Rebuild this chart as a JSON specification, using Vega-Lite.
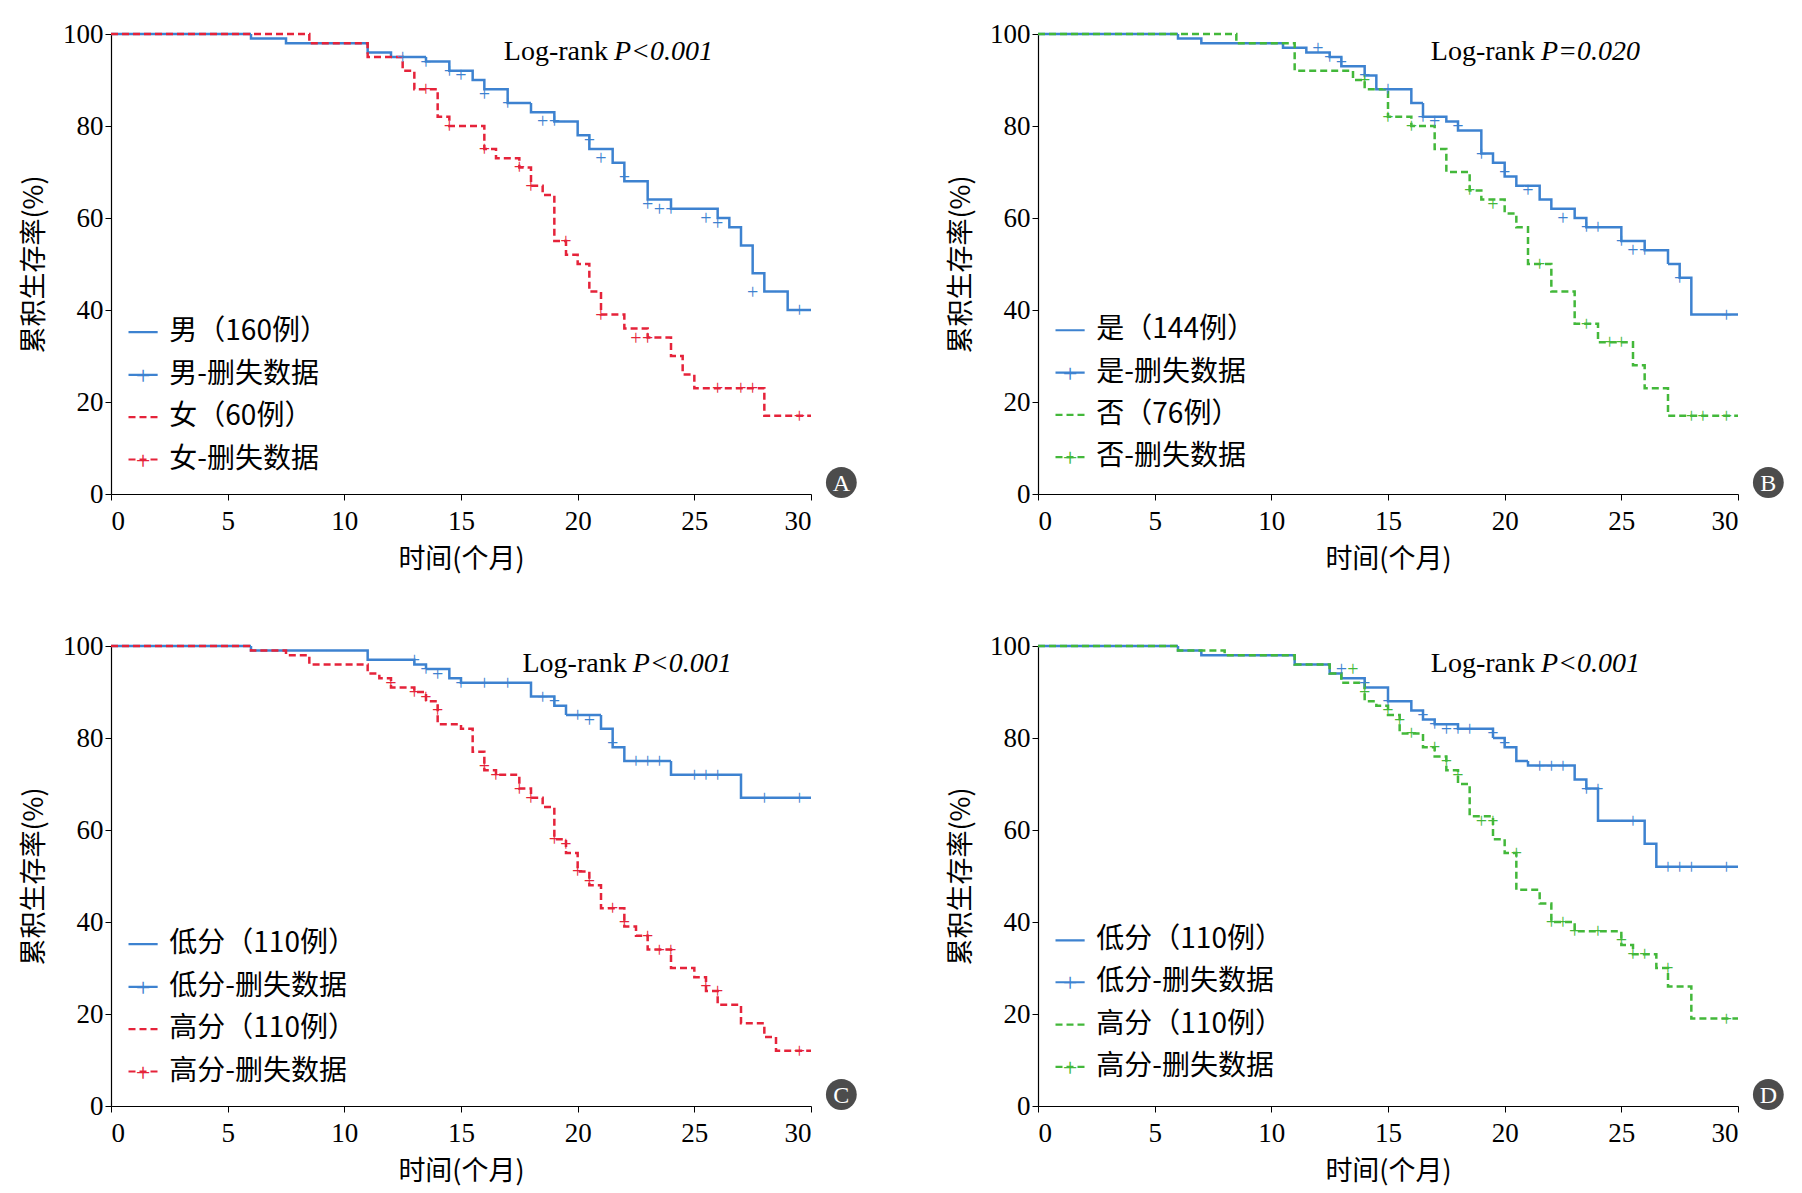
{
"$schema":"https://vega.github.io/schema/vega-lite/v6.json",
"background":"white",
"padding":{"left":20,"top":20,"right":10,"bottom":5},
"config":{"view":{"stroke":null},"font":"Liberation Serif","axis":{"grid":false,"domainColor":"#000","tickColor":"#000","labelColor":"#000","titleColor":"#000","labelFont":"Liberation Serif","titleFont":"Noto Sans CJK SC","labelFontSize":27,"titleFontSize":27,"titleFontWeight":"normal","tickSize":6,"domainWidth":1.2},"concat":{"spacing":90}},
"resolve":{"scale":{"color":"independent"}},
"datasets":{
"curves":[
{"p":"A","g":"a","t":0,"s":100},{"p":"A","g":"a","t":6,"s":99},{"p":"A","g":"a","t":7.5,"s":98},{"p":"A","g":"a","t":11,"s":96},{"p":"A","g":"a","t":12,"s":95},{"p":"A","g":"a","t":13.5,"s":94},{"p":"A","g":"a","t":14.5,"s":92},{"p":"A","g":"a","t":15.5,"s":90},{"p":"A","g":"a","t":16,"s":88},{"p":"A","g":"a","t":17,"s":85},{"p":"A","g":"a","t":18,"s":83},{"p":"A","g":"a","t":19,"s":81},{"p":"A","g":"a","t":20,"s":78},{"p":"A","g":"a","t":20.5,"s":75},{"p":"A","g":"a","t":21.5,"s":72},{"p":"A","g":"a","t":22,"s":68},{"p":"A","g":"a","t":23,"s":64},{"p":"A","g":"a","t":24,"s":62},{"p":"A","g":"a","t":26,"s":60},{"p":"A","g":"a","t":26.5,"s":58},{"p":"A","g":"a","t":27,"s":54},{"p":"A","g":"a","t":27.5,"s":48},{"p":"A","g":"a","t":28,"s":44},{"p":"A","g":"a","t":29,"s":40},{"p":"A","g":"a","t":30,"s":40},
{"p":"A","g":"b","t":0,"s":100},{"p":"A","g":"b","t":8.5,"s":98},{"p":"A","g":"b","t":11,"s":95},{"p":"A","g":"b","t":12.5,"s":92},{"p":"A","g":"b","t":13,"s":88},{"p":"A","g":"b","t":14,"s":82},{"p":"A","g":"b","t":14.5,"s":80},{"p":"A","g":"b","t":16,"s":75},{"p":"A","g":"b","t":16.5,"s":73},{"p":"A","g":"b","t":17.5,"s":71},{"p":"A","g":"b","t":18,"s":67},{"p":"A","g":"b","t":18.5,"s":65},{"p":"A","g":"b","t":19,"s":55},{"p":"A","g":"b","t":19.5,"s":52},{"p":"A","g":"b","t":20,"s":50},{"p":"A","g":"b","t":20.5,"s":44},{"p":"A","g":"b","t":21,"s":39},{"p":"A","g":"b","t":22,"s":36},{"p":"A","g":"b","t":23,"s":34},{"p":"A","g":"b","t":24,"s":30},{"p":"A","g":"b","t":24.5,"s":26},{"p":"A","g":"b","t":25,"s":23},{"p":"A","g":"b","t":28,"s":17},{"p":"A","g":"b","t":30,"s":17},
{"p":"B","g":"a","t":0,"s":100},{"p":"B","g":"a","t":6,"s":99},{"p":"B","g":"a","t":7,"s":98},{"p":"B","g":"a","t":10.5,"s":97},{"p":"B","g":"a","t":11.5,"s":96},{"p":"B","g":"a","t":12.5,"s":95},{"p":"B","g":"a","t":13,"s":93},{"p":"B","g":"a","t":14,"s":91},{"p":"B","g":"a","t":14.5,"s":88},{"p":"B","g":"a","t":16,"s":85},{"p":"B","g":"a","t":16.5,"s":82},{"p":"B","g":"a","t":17.5,"s":81},{"p":"B","g":"a","t":18,"s":79},{"p":"B","g":"a","t":19,"s":74},{"p":"B","g":"a","t":19.5,"s":72},{"p":"B","g":"a","t":20,"s":69},{"p":"B","g":"a","t":20.5,"s":67},{"p":"B","g":"a","t":21.5,"s":64},{"p":"B","g":"a","t":22,"s":62},{"p":"B","g":"a","t":23,"s":60},{"p":"B","g":"a","t":23.5,"s":58},{"p":"B","g":"a","t":25,"s":55},{"p":"B","g":"a","t":26,"s":53},{"p":"B","g":"a","t":27,"s":50},{"p":"B","g":"a","t":27.5,"s":47},{"p":"B","g":"a","t":28,"s":39},{"p":"B","g":"a","t":30,"s":39},
{"p":"B","g":"b","t":0,"s":100},{"p":"B","g":"b","t":8.5,"s":98},{"p":"B","g":"b","t":11,"s":92},{"p":"B","g":"b","t":13.5,"s":90},{"p":"B","g":"b","t":14,"s":88},{"p":"B","g":"b","t":15,"s":82},{"p":"B","g":"b","t":16,"s":80},{"p":"B","g":"b","t":17,"s":75},{"p":"B","g":"b","t":17.5,"s":70},{"p":"B","g":"b","t":18.5,"s":66},{"p":"B","g":"b","t":19,"s":64},{"p":"B","g":"b","t":20,"s":61},{"p":"B","g":"b","t":20.5,"s":58},{"p":"B","g":"b","t":21,"s":50},{"p":"B","g":"b","t":22,"s":44},{"p":"B","g":"b","t":23,"s":37},{"p":"B","g":"b","t":24,"s":33},{"p":"B","g":"b","t":25.5,"s":28},{"p":"B","g":"b","t":26,"s":23},{"p":"B","g":"b","t":27,"s":17},{"p":"B","g":"b","t":30,"s":17},
{"p":"C","g":"a","t":0,"s":100},{"p":"C","g":"a","t":6,"s":99},{"p":"C","g":"a","t":11,"s":97},{"p":"C","g":"a","t":13,"s":96},{"p":"C","g":"a","t":13.5,"s":95},{"p":"C","g":"a","t":14.5,"s":93},{"p":"C","g":"a","t":15,"s":92},{"p":"C","g":"a","t":18,"s":89},{"p":"C","g":"a","t":19,"s":87},{"p":"C","g":"a","t":19.5,"s":85},{"p":"C","g":"a","t":21,"s":82},{"p":"C","g":"a","t":21.5,"s":78},{"p":"C","g":"a","t":22,"s":75},{"p":"C","g":"a","t":24,"s":72},{"p":"C","g":"a","t":27,"s":67},{"p":"C","g":"a","t":30,"s":67},
{"p":"C","g":"b","t":0,"s":100},{"p":"C","g":"b","t":6,"s":99},{"p":"C","g":"b","t":7.5,"s":98},{"p":"C","g":"b","t":8.5,"s":96},{"p":"C","g":"b","t":11,"s":94},{"p":"C","g":"b","t":11.5,"s":93},{"p":"C","g":"b","t":12,"s":91},{"p":"C","g":"b","t":13,"s":90},{"p":"C","g":"b","t":13.5,"s":88},{"p":"C","g":"b","t":14,"s":83},{"p":"C","g":"b","t":15,"s":82},{"p":"C","g":"b","t":15.5,"s":77},{"p":"C","g":"b","t":16,"s":73},{"p":"C","g":"b","t":16.5,"s":72},{"p":"C","g":"b","t":17.5,"s":69},{"p":"C","g":"b","t":18,"s":67},{"p":"C","g":"b","t":18.5,"s":65},{"p":"C","g":"b","t":19,"s":58},{"p":"C","g":"b","t":19.5,"s":55},{"p":"C","g":"b","t":20,"s":51},{"p":"C","g":"b","t":20.5,"s":48},{"p":"C","g":"b","t":21,"s":43},{"p":"C","g":"b","t":22,"s":39},{"p":"C","g":"b","t":22.5,"s":37},{"p":"C","g":"b","t":23,"s":34},{"p":"C","g":"b","t":24,"s":30},{"p":"C","g":"b","t":25,"s":28},{"p":"C","g":"b","t":25.5,"s":25},{"p":"C","g":"b","t":26,"s":22},{"p":"C","g":"b","t":27,"s":18},{"p":"C","g":"b","t":28,"s":15},{"p":"C","g":"b","t":28.5,"s":12},{"p":"C","g":"b","t":30,"s":12},
{"p":"D","g":"a","t":0,"s":100},{"p":"D","g":"a","t":6,"s":99},{"p":"D","g":"a","t":7,"s":98},{"p":"D","g":"a","t":11,"s":96},{"p":"D","g":"a","t":12.5,"s":94},{"p":"D","g":"a","t":13,"s":93},{"p":"D","g":"a","t":14,"s":91},{"p":"D","g":"a","t":15,"s":88},{"p":"D","g":"a","t":16,"s":86},{"p":"D","g":"a","t":16.5,"s":84},{"p":"D","g":"a","t":17,"s":83},{"p":"D","g":"a","t":18,"s":82},{"p":"D","g":"a","t":19.5,"s":80},{"p":"D","g":"a","t":20,"s":78},{"p":"D","g":"a","t":20.5,"s":75},{"p":"D","g":"a","t":21,"s":74},{"p":"D","g":"a","t":23,"s":71},{"p":"D","g":"a","t":23.5,"s":69},{"p":"D","g":"a","t":24,"s":62},{"p":"D","g":"a","t":26,"s":57},{"p":"D","g":"a","t":26.5,"s":52},{"p":"D","g":"a","t":30,"s":52},
{"p":"D","g":"b","t":0,"s":100},{"p":"D","g":"b","t":6,"s":99},{"p":"D","g":"b","t":8,"s":98},{"p":"D","g":"b","t":11,"s":96},{"p":"D","g":"b","t":12.5,"s":94},{"p":"D","g":"b","t":13,"s":92},{"p":"D","g":"b","t":14,"s":88},{"p":"D","g":"b","t":14.5,"s":87},{"p":"D","g":"b","t":15,"s":85},{"p":"D","g":"b","t":15.5,"s":81},{"p":"D","g":"b","t":16.5,"s":78},{"p":"D","g":"b","t":17,"s":76},{"p":"D","g":"b","t":17.5,"s":73},{"p":"D","g":"b","t":18,"s":70},{"p":"D","g":"b","t":18.5,"s":63},{"p":"D","g":"b","t":19.5,"s":58},{"p":"D","g":"b","t":20,"s":55},{"p":"D","g":"b","t":20.5,"s":47},{"p":"D","g":"b","t":21.5,"s":44},{"p":"D","g":"b","t":22,"s":40},{"p":"D","g":"b","t":23,"s":38},{"p":"D","g":"b","t":25,"s":35},{"p":"D","g":"b","t":25.5,"s":33},{"p":"D","g":"b","t":26.5,"s":30},{"p":"D","g":"b","t":27,"s":26},{"p":"D","g":"b","t":28,"s":19},{"p":"D","g":"b","t":30,"s":19}
],
"cens":[
{"p":"A","g":"a","t":12.5,"s":95},{"p":"A","g":"a","t":13.5,"s":94},{"p":"A","g":"a","t":14.5,"s":92},{"p":"A","g":"a","t":15,"s":91},{"p":"A","g":"a","t":16,"s":87},{"p":"A","g":"a","t":17,"s":85},{"p":"A","g":"a","t":18.5,"s":81},{"p":"A","g":"a","t":19,"s":81},{"p":"A","g":"a","t":20.5,"s":77},{"p":"A","g":"a","t":21,"s":73},{"p":"A","g":"a","t":22,"s":69},{"p":"A","g":"a","t":23,"s":63},{"p":"A","g":"a","t":23.5,"s":62},{"p":"A","g":"a","t":24,"s":62},{"p":"A","g":"a","t":25.5,"s":60},{"p":"A","g":"a","t":26,"s":59},{"p":"A","g":"a","t":27.5,"s":44},{"p":"A","g":"a","t":29.5,"s":40},
{"p":"A","g":"b","t":13.5,"s":88},{"p":"A","g":"b","t":14.5,"s":80},{"p":"A","g":"b","t":16,"s":75},{"p":"A","g":"b","t":17.5,"s":71},{"p":"A","g":"b","t":18,"s":67},{"p":"A","g":"b","t":19.5,"s":55},{"p":"A","g":"b","t":21,"s":39},{"p":"A","g":"b","t":22.5,"s":34},{"p":"A","g":"b","t":23,"s":34},{"p":"A","g":"b","t":26,"s":23},{"p":"A","g":"b","t":27,"s":23},{"p":"A","g":"b","t":27.5,"s":23},{"p":"A","g":"b","t":29.5,"s":17},
{"p":"B","g":"a","t":12,"s":97},{"p":"B","g":"a","t":12.5,"s":95},{"p":"B","g":"a","t":13,"s":94},{"p":"B","g":"a","t":14,"s":91},{"p":"B","g":"a","t":15,"s":88},{"p":"B","g":"a","t":16.5,"s":82},{"p":"B","g":"a","t":17,"s":81},{"p":"B","g":"a","t":18,"s":80},{"p":"B","g":"a","t":19,"s":74},{"p":"B","g":"a","t":20,"s":70},{"p":"B","g":"a","t":21,"s":66},{"p":"B","g":"a","t":22.5,"s":60},{"p":"B","g":"a","t":23.5,"s":58},{"p":"B","g":"a","t":24,"s":58},{"p":"B","g":"a","t":25,"s":55},{"p":"B","g":"a","t":25.5,"s":53},{"p":"B","g":"a","t":26,"s":53},{"p":"B","g":"a","t":27.5,"s":47},{"p":"B","g":"a","t":29.5,"s":39},
{"p":"B","g":"b","t":14,"s":90},{"p":"B","g":"b","t":15,"s":82},{"p":"B","g":"b","t":16,"s":80},{"p":"B","g":"b","t":18.5,"s":66},{"p":"B","g":"b","t":19.5,"s":63},{"p":"B","g":"b","t":21.5,"s":50},{"p":"B","g":"b","t":23.5,"s":37},{"p":"B","g":"b","t":24.5,"s":33},{"p":"B","g":"b","t":25,"s":33},{"p":"B","g":"b","t":28,"s":17},{"p":"B","g":"b","t":28.5,"s":17},{"p":"B","g":"b","t":29.5,"s":17},
{"p":"C","g":"a","t":13,"s":97},{"p":"C","g":"a","t":13.5,"s":95},{"p":"C","g":"a","t":14,"s":94},{"p":"C","g":"a","t":15,"s":92},{"p":"C","g":"a","t":16,"s":92},{"p":"C","g":"a","t":17,"s":92},{"p":"C","g":"a","t":18.5,"s":89},{"p":"C","g":"a","t":19,"s":88},{"p":"C","g":"a","t":20,"s":85},{"p":"C","g":"a","t":20.5,"s":84},{"p":"C","g":"a","t":21.5,"s":79},{"p":"C","g":"a","t":22.5,"s":75},{"p":"C","g":"a","t":23,"s":75},{"p":"C","g":"a","t":23.5,"s":75},{"p":"C","g":"a","t":25,"s":72},{"p":"C","g":"a","t":25.5,"s":72},{"p":"C","g":"a","t":26,"s":72},{"p":"C","g":"a","t":28,"s":67},{"p":"C","g":"a","t":29.5,"s":67},
{"p":"C","g":"b","t":12,"s":92},{"p":"C","g":"b","t":13,"s":90},{"p":"C","g":"b","t":13.5,"s":89},{"p":"C","g":"b","t":14,"s":86},{"p":"C","g":"b","t":16,"s":74},{"p":"C","g":"b","t":16.5,"s":72},{"p":"C","g":"b","t":17.5,"s":69},{"p":"C","g":"b","t":18,"s":67},{"p":"C","g":"b","t":19,"s":58},{"p":"C","g":"b","t":19.5,"s":57},{"p":"C","g":"b","t":20,"s":51},{"p":"C","g":"b","t":20.5,"s":49},{"p":"C","g":"b","t":21.5,"s":43},{"p":"C","g":"b","t":22,"s":40},{"p":"C","g":"b","t":23,"s":37},{"p":"C","g":"b","t":23.5,"s":34},{"p":"C","g":"b","t":24,"s":34},{"p":"C","g":"b","t":25.5,"s":26},{"p":"C","g":"b","t":26,"s":25},{"p":"C","g":"b","t":29.5,"s":12},
{"p":"D","g":"a","t":13,"s":95},{"p":"D","g":"a","t":14,"s":92},{"p":"D","g":"a","t":15,"s":88},{"p":"D","g":"a","t":16.5,"s":85},{"p":"D","g":"a","t":17,"s":83},{"p":"D","g":"a","t":17.5,"s":82},{"p":"D","g":"a","t":18,"s":82},{"p":"D","g":"a","t":18.5,"s":82},{"p":"D","g":"a","t":19.5,"s":81},{"p":"D","g":"a","t":20,"s":79},{"p":"D","g":"a","t":21.5,"s":74},{"p":"D","g":"a","t":22,"s":74},{"p":"D","g":"a","t":22.5,"s":74},{"p":"D","g":"a","t":23.5,"s":69},{"p":"D","g":"a","t":24,"s":69},{"p":"D","g":"a","t":25.5,"s":62},{"p":"D","g":"a","t":27,"s":52},{"p":"D","g":"a","t":27.5,"s":52},{"p":"D","g":"a","t":28,"s":52},{"p":"D","g":"a","t":29.5,"s":52},
{"p":"D","g":"b","t":13.5,"s":95},{"p":"D","g":"b","t":14,"s":90},{"p":"D","g":"b","t":15,"s":86},{"p":"D","g":"b","t":15.5,"s":84},{"p":"D","g":"b","t":16,"s":81},{"p":"D","g":"b","t":17,"s":78},{"p":"D","g":"b","t":17.5,"s":75},{"p":"D","g":"b","t":18,"s":72},{"p":"D","g":"b","t":19,"s":62},{"p":"D","g":"b","t":19.5,"s":62},{"p":"D","g":"b","t":20.5,"s":55},{"p":"D","g":"b","t":22,"s":40},{"p":"D","g":"b","t":22.5,"s":40},{"p":"D","g":"b","t":23,"s":38},{"p":"D","g":"b","t":24,"s":38},{"p":"D","g":"b","t":25,"s":36},{"p":"D","g":"b","t":25.5,"s":33},{"p":"D","g":"b","t":26,"s":33},{"p":"D","g":"b","t":27,"s":30},{"p":"D","g":"b","t":29.5,"s":19}
],
"leg":[
{"p":"A","g":"a","k":"line","y":35.2,"label":"男（160例）"},{"p":"A","g":"a","k":"cens","y":25.9,"label":"男-删失数据"},{"p":"A","g":"b","k":"line","y":16.7,"label":"女（60例）"},{"p":"A","g":"b","k":"cens","y":7.5,"label":"女-删失数据"},
{"p":"B","g":"a","k":"line","y":35.6,"label":"是（144例）"},{"p":"B","g":"a","k":"cens","y":26.4,"label":"是-删失数据"},{"p":"B","g":"b","k":"line","y":17.2,"label":"否（76例）"},{"p":"B","g":"b","k":"cens","y":8,"label":"否-删失数据"},
{"p":"C","g":"a","k":"line","y":35.2,"label":"低分（110例）"},{"p":"C","g":"a","k":"cens","y":25.9,"label":"低分-删失数据"},{"p":"C","g":"b","k":"line","y":16.7,"label":"高分（110例）"},{"p":"C","g":"b","k":"cens","y":7.5,"label":"高分-删失数据"},
{"p":"D","g":"a","k":"line","y":36,"label":"低分（110例）"},{"p":"D","g":"a","k":"cens","y":26.9,"label":"低分-删失数据"},{"p":"D","g":"b","k":"line","y":17.7,"label":"高分（110例）"},{"p":"D","g":"b","k":"cens","y":8.5,"label":"高分-删失数据"}
],
"ann":[
{"p":"A","lr":"P<0.001","letter":"A"},{"p":"B","lr":"P=0.020","letter":"B"},{"p":"C","lr":"P<0.001","letter":"C"},{"p":"D","lr":"P<0.001","letter":"D"}
]
},
"vconcat":[
{"resolve":{"scale":{"color":"independent","strokeDash":"independent"}},"hconcat":[
{"width":700,"height":460,"layer":[
{"data":{"name":"curves"},"transform":[{"filter":"datum.p=='A'"}],"mark":{"type":"line","interpolate":"step-after","strokeWidth":2.5},"encoding":{"x":{"field":"t","type":"quantitative","scale":{"domain":[0,30],"nice":false},"axis":{"values":[0,5,10,15,20,25,30],"title":"时间(个月)","labelPadding":8,"titlePadding":12}},"y":{"field":"s","type":"quantitative","scale":{"domain":[0,100]},"axis":{"values":[0,20,40,60,80,100],"title":"累积生存率(%)","titlePadding":14}},"color":{"field":"g","scale":{"domain":["a","b"],"range":["#3d82d0","#e5233a"]},"legend":null},"strokeDash":{"field":"g","scale":{"domain":["a","b"],"range":[[1,0],[7,4]]},"legend":null}}},
{"data":{"name":"cens"},"transform":[{"filter":"datum.p=='A'"}],"mark":{"type":"text","text":"+","fontSize":20,"baseline":"middle","dy":1},"encoding":{"x":{"field":"t","type":"quantitative"},"y":{"field":"s","type":"quantitative"},"color":{"field":"g","scale":{"domain":["a","b"],"range":["#3d82d0","#e5233a"]},"legend":null}}},
{"data":{"name":"leg"},"transform":[{"filter":"datum.p=='A'"}],"mark":{"type":"rule","strokeWidth":2.2},"encoding":{"x":{"datum":0.75},"x2":{"datum":2.0},"y":{"field":"y","type":"quantitative"},"color":{"field":"g","scale":{"domain":["a","b"],"range":["#3d82d0","#e5233a"]},"legend":null},"strokeDash":{"field":"g","scale":{"domain":["a","b"],"range":[[1,0],[7,4]]},"legend":null}}},
{"data":{"name":"leg"},"transform":[{"filter":"datum.p=='A' && datum.k=='cens'"}],"mark":{"type":"text","text":"+","fontSize":26,"baseline":"middle","dy":1},"encoding":{"x":{"datum":1.37},"y":{"field":"y","type":"quantitative"},"color":{"field":"g","scale":{"domain":["a","b"],"range":["#3d82d0","#e5233a"]},"legend":null}}},
{"data":{"name":"leg"},"transform":[{"filter":"datum.p=='A'"}],"mark":{"type":"text","align":"left","baseline":"middle","fontSize":28,"font":"Noto Sans CJK SC","color":"#000"},"encoding":{"x":{"datum":2.5},"y":{"field":"y","type":"quantitative"},"text":{"field":"label"}}},
{"data":{"name":"ann"},"transform":[{"filter":"datum.p=='A'"}],"mark":{"type":"text","align":"right","baseline":"middle","fontSize":28,"color":"#000"},"encoding":{"x":{"datum":21.3},"y":{"datum":96},"text":{"value":"Log-rank"}}},
{"data":{"name":"ann"},"transform":[{"filter":"datum.p=='A'"}],"mark":{"type":"text","align":"left","baseline":"middle","fontSize":28,"fontStyle":"italic","color":"#000","dx":6},"encoding":{"x":{"datum":21.3},"y":{"datum":96},"text":{"field":"lr"}}},
{"data":{"name":"ann"},"transform":[{"filter":"datum.p=='A'"}],"mark":{"type":"point","filled":true,"size":950,"color":"#000","clip":false},"encoding":{"x":{"datum":31.3},"y":{"datum":2.5}}},
{"data":{"name":"ann"},"transform":[{"filter":"datum.p=='A'"}],"mark":{"type":"text","fontSize":24,"color":"#fff","baseline":"middle","clip":false,"dy":1},"encoding":{"x":{"datum":31.3},"y":{"datum":2.5},"text":{"field":"letter"}}}
]},
{"width":700,"height":460,"layer":[
{"data":{"name":"curves"},"transform":[{"filter":"datum.p=='B'"}],"mark":{"type":"line","interpolate":"step-after","strokeWidth":2.5},"encoding":{"x":{"field":"t","type":"quantitative","scale":{"domain":[0,30],"nice":false},"axis":{"values":[0,5,10,15,20,25,30],"title":"时间(个月)","labelPadding":8,"titlePadding":12}},"y":{"field":"s","type":"quantitative","scale":{"domain":[0,100]},"axis":{"values":[0,20,40,60,80,100],"title":"累积生存率(%)","titlePadding":14}},"color":{"field":"g","scale":{"domain":["a","b"],"range":["#3d82d0","#43b83a"]},"legend":null},"strokeDash":{"field":"g","scale":{"domain":["a","b"],"range":[[1,0],[7,4]]},"legend":null}}},
{"data":{"name":"cens"},"transform":[{"filter":"datum.p=='B'"}],"mark":{"type":"text","text":"+","fontSize":20,"baseline":"middle","dy":1},"encoding":{"x":{"field":"t","type":"quantitative"},"y":{"field":"s","type":"quantitative"},"color":{"field":"g","scale":{"domain":["a","b"],"range":["#3d82d0","#43b83a"]},"legend":null}}},
{"data":{"name":"leg"},"transform":[{"filter":"datum.p=='B'"}],"mark":{"type":"rule","strokeWidth":2.2},"encoding":{"x":{"datum":0.75},"x2":{"datum":2.0},"y":{"field":"y","type":"quantitative"},"color":{"field":"g","scale":{"domain":["a","b"],"range":["#3d82d0","#43b83a"]},"legend":null},"strokeDash":{"field":"g","scale":{"domain":["a","b"],"range":[[1,0],[7,4]]},"legend":null}}},
{"data":{"name":"leg"},"transform":[{"filter":"datum.p=='B' && datum.k=='cens'"}],"mark":{"type":"text","text":"+","fontSize":26,"baseline":"middle","dy":1},"encoding":{"x":{"datum":1.37},"y":{"field":"y","type":"quantitative"},"color":{"field":"g","scale":{"domain":["a","b"],"range":["#3d82d0","#43b83a"]},"legend":null}}},
{"data":{"name":"leg"},"transform":[{"filter":"datum.p=='B'"}],"mark":{"type":"text","align":"left","baseline":"middle","fontSize":28,"font":"Noto Sans CJK SC","color":"#000"},"encoding":{"x":{"datum":2.5},"y":{"field":"y","type":"quantitative"},"text":{"field":"label"}}},
{"data":{"name":"ann"},"transform":[{"filter":"datum.p=='B'"}],"mark":{"type":"text","align":"right","baseline":"middle","fontSize":28,"color":"#000"},"encoding":{"x":{"datum":21.3},"y":{"datum":96},"text":{"value":"Log-rank"}}},
{"data":{"name":"ann"},"transform":[{"filter":"datum.p=='B'"}],"mark":{"type":"text","align":"left","baseline":"middle","fontSize":28,"fontStyle":"italic","color":"#000","dx":6},"encoding":{"x":{"datum":21.3},"y":{"datum":96},"text":{"field":"lr"}}},
{"data":{"name":"ann"},"transform":[{"filter":"datum.p=='B'"}],"mark":{"type":"point","filled":true,"size":950,"color":"#000","clip":false},"encoding":{"x":{"datum":31.3},"y":{"datum":2.5}}},
{"data":{"name":"ann"},"transform":[{"filter":"datum.p=='B'"}],"mark":{"type":"text","fontSize":24,"color":"#fff","baseline":"middle","clip":false,"dy":1},"encoding":{"x":{"datum":31.3},"y":{"datum":2.5},"text":{"field":"letter"}}}
]}
]},
{"resolve":{"scale":{"color":"independent","strokeDash":"independent"}},"hconcat":[
{"width":700,"height":460,"layer":[
{"data":{"name":"curves"},"transform":[{"filter":"datum.p=='C'"}],"mark":{"type":"line","interpolate":"step-after","strokeWidth":2.5},"encoding":{"x":{"field":"t","type":"quantitative","scale":{"domain":[0,30],"nice":false},"axis":{"values":[0,5,10,15,20,25,30],"title":"时间(个月)","labelPadding":8,"titlePadding":12}},"y":{"field":"s","type":"quantitative","scale":{"domain":[0,100]},"axis":{"values":[0,20,40,60,80,100],"title":"累积生存率(%)","titlePadding":14}},"color":{"field":"g","scale":{"domain":["a","b"],"range":["#3d82d0","#e5233a"]},"legend":null},"strokeDash":{"field":"g","scale":{"domain":["a","b"],"range":[[1,0],[7,4]]},"legend":null}}},
{"data":{"name":"cens"},"transform":[{"filter":"datum.p=='C'"}],"mark":{"type":"text","text":"+","fontSize":20,"baseline":"middle","dy":1},"encoding":{"x":{"field":"t","type":"quantitative"},"y":{"field":"s","type":"quantitative"},"color":{"field":"g","scale":{"domain":["a","b"],"range":["#3d82d0","#e5233a"]},"legend":null}}},
{"data":{"name":"leg"},"transform":[{"filter":"datum.p=='C'"}],"mark":{"type":"rule","strokeWidth":2.2},"encoding":{"x":{"datum":0.75},"x2":{"datum":2.0},"y":{"field":"y","type":"quantitative"},"color":{"field":"g","scale":{"domain":["a","b"],"range":["#3d82d0","#e5233a"]},"legend":null},"strokeDash":{"field":"g","scale":{"domain":["a","b"],"range":[[1,0],[7,4]]},"legend":null}}},
{"data":{"name":"leg"},"transform":[{"filter":"datum.p=='C' && datum.k=='cens'"}],"mark":{"type":"text","text":"+","fontSize":26,"baseline":"middle","dy":1},"encoding":{"x":{"datum":1.37},"y":{"field":"y","type":"quantitative"},"color":{"field":"g","scale":{"domain":["a","b"],"range":["#3d82d0","#e5233a"]},"legend":null}}},
{"data":{"name":"leg"},"transform":[{"filter":"datum.p=='C'"}],"mark":{"type":"text","align":"left","baseline":"middle","fontSize":28,"font":"Noto Sans CJK SC","color":"#000"},"encoding":{"x":{"datum":2.5},"y":{"field":"y","type":"quantitative"},"text":{"field":"label"}}},
{"data":{"name":"ann"},"transform":[{"filter":"datum.p=='C'"}],"mark":{"type":"text","align":"right","baseline":"middle","fontSize":28,"color":"#000"},"encoding":{"x":{"datum":22.1},"y":{"datum":96},"text":{"value":"Log-rank"}}},
{"data":{"name":"ann"},"transform":[{"filter":"datum.p=='C'"}],"mark":{"type":"text","align":"left","baseline":"middle","fontSize":28,"fontStyle":"italic","color":"#000","dx":6},"encoding":{"x":{"datum":22.1},"y":{"datum":96},"text":{"field":"lr"}}},
{"data":{"name":"ann"},"transform":[{"filter":"datum.p=='C'"}],"mark":{"type":"point","filled":true,"size":950,"color":"#000","clip":false},"encoding":{"x":{"datum":31.3},"y":{"datum":2.5}}},
{"data":{"name":"ann"},"transform":[{"filter":"datum.p=='C'"}],"mark":{"type":"text","fontSize":24,"color":"#fff","baseline":"middle","clip":false,"dy":1},"encoding":{"x":{"datum":31.3},"y":{"datum":2.5},"text":{"field":"letter"}}}
]},
{"width":700,"height":460,"layer":[
{"data":{"name":"curves"},"transform":[{"filter":"datum.p=='D'"}],"mark":{"type":"line","interpolate":"step-after","strokeWidth":2.5},"encoding":{"x":{"field":"t","type":"quantitative","scale":{"domain":[0,30],"nice":false},"axis":{"values":[0,5,10,15,20,25,30],"title":"时间(个月)","labelPadding":8,"titlePadding":12}},"y":{"field":"s","type":"quantitative","scale":{"domain":[0,100]},"axis":{"values":[0,20,40,60,80,100],"title":"累积生存率(%)","titlePadding":14}},"color":{"field":"g","scale":{"domain":["a","b"],"range":["#3d82d0","#43b83a"]},"legend":null},"strokeDash":{"field":"g","scale":{"domain":["a","b"],"range":[[1,0],[7,4]]},"legend":null}}},
{"data":{"name":"cens"},"transform":[{"filter":"datum.p=='D'"}],"mark":{"type":"text","text":"+","fontSize":20,"baseline":"middle","dy":1},"encoding":{"x":{"field":"t","type":"quantitative"},"y":{"field":"s","type":"quantitative"},"color":{"field":"g","scale":{"domain":["a","b"],"range":["#3d82d0","#43b83a"]},"legend":null}}},
{"data":{"name":"leg"},"transform":[{"filter":"datum.p=='D'"}],"mark":{"type":"rule","strokeWidth":2.2},"encoding":{"x":{"datum":0.75},"x2":{"datum":2.0},"y":{"field":"y","type":"quantitative"},"color":{"field":"g","scale":{"domain":["a","b"],"range":["#3d82d0","#43b83a"]},"legend":null},"strokeDash":{"field":"g","scale":{"domain":["a","b"],"range":[[1,0],[7,4]]},"legend":null}}},
{"data":{"name":"leg"},"transform":[{"filter":"datum.p=='D' && datum.k=='cens'"}],"mark":{"type":"text","text":"+","fontSize":26,"baseline":"middle","dy":1},"encoding":{"x":{"datum":1.37},"y":{"field":"y","type":"quantitative"},"color":{"field":"g","scale":{"domain":["a","b"],"range":["#3d82d0","#43b83a"]},"legend":null}}},
{"data":{"name":"leg"},"transform":[{"filter":"datum.p=='D'"}],"mark":{"type":"text","align":"left","baseline":"middle","fontSize":28,"font":"Noto Sans CJK SC","color":"#000"},"encoding":{"x":{"datum":2.5},"y":{"field":"y","type":"quantitative"},"text":{"field":"label"}}},
{"data":{"name":"ann"},"transform":[{"filter":"datum.p=='D'"}],"mark":{"type":"text","align":"right","baseline":"middle","fontSize":28,"color":"#000"},"encoding":{"x":{"datum":21.3},"y":{"datum":96},"text":{"value":"Log-rank"}}},
{"data":{"name":"ann"},"transform":[{"filter":"datum.p=='D'"}],"mark":{"type":"text","align":"left","baseline":"middle","fontSize":28,"fontStyle":"italic","color":"#000","dx":6},"encoding":{"x":{"datum":21.3},"y":{"datum":96},"text":{"field":"lr"}}},
{"data":{"name":"ann"},"transform":[{"filter":"datum.p=='D'"}],"mark":{"type":"point","filled":true,"size":950,"color":"#000","clip":false},"encoding":{"x":{"datum":31.3},"y":{"datum":2.5}}},
{"data":{"name":"ann"},"transform":[{"filter":"datum.p=='D'"}],"mark":{"type":"text","fontSize":24,"color":"#fff","baseline":"middle","clip":false,"dy":1},"encoding":{"x":{"datum":31.3},"y":{"datum":2.5},"text":{"field":"letter"}}}
]}
]}
],
"spacing":60
}
